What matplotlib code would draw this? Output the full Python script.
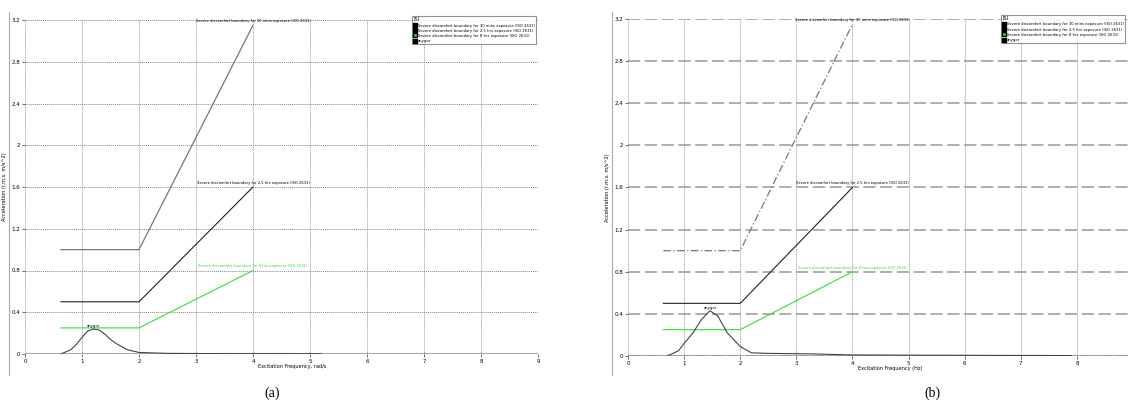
import numpy as np
import matplotlib
matplotlib.use("Agg")
import matplotlib.pyplot as plt
from matplotlib.lines import Line2D

# Boundary curves (ISO 2631), frequency points and acceleration values
bound_freq = [0.63, 2.0, 4.0]
bound_30min = [1.0, 1.0, 3.15]
bound_2h5 = [0.5, 0.5, 1.6]
bound_8h = [0.25, 0.25, 0.8]

# Input spectra
in_a_freq = [0.63, 0.8, 0.9, 1.0, 1.1, 1.2, 1.3, 1.4, 1.5, 1.6, 1.8, 2.0, 2.25, 2.5, 3.15, 4.0, 5.2]
in_a_val = [0.0, 0.04, 0.09, 0.16, 0.22, 0.24, 0.23, 0.19, 0.14, 0.10, 0.04, 0.015, 0.01, 0.006, 0.004, 0.003, 0.002]
in_b_freq = [0.7, 0.9, 1.0, 1.16, 1.3, 1.46, 1.6, 1.77, 2.0, 2.2, 2.5, 3.3, 4.0, 5.0, 6.3, 7.9]
in_b_val = [0.0, 0.05, 0.12, 0.22, 0.34, 0.43, 0.38, 0.22, 0.09, 0.03, 0.025, 0.02, 0.01, 0.008, 0.006, 0.004]

labels = ["Severe discomfort boundary for 30 mins exposure (ISO 2631)",
          "Severe discomfort boundary for 2.5 hrs exposure (ISO 2631)",
          "Severe discomfort boundary for 8 hrs exposure (ISO 2631)",
          "anygor"]
xticks_a = list(range(10))
xticks_b = list(range(9))
yticks = [0, 0.4, 0.8, 1.2, 1.6, 2.0, 2.4, 2.8, 3.2]
ytick_labels = ["0", "0.4", "0.8", "1.2", "1.6", "2", "2.4", "2.8", "3.2"]

font = "DejaVu Sans"
green = "#33dd33"

fig = plt.figure(figsize=(11.28, 4.05), dpi=100)
ax_a = fig.add_axes([25 / 1128, 1 - 354 / 405, 513 / 1128, 334 / 405])
ax_b = fig.add_axes([628 / 1128, 1 - 356 / 405, 505 / 1128, 337 / 405])


def draw_panel(ax, in_freq, in_val, xticks, xlabel, dashed_h, leg_anchor):
    ax.set_xlim(0, 9)
    ax.set_ylim(0, 3.2)
    ax.plot(bound_freq, bound_30min, color="#777777", lw=0.9,
            ls="-" if not dashed_h else (0, (6, 2, 1, 2)))
    ax.plot(bound_freq, bound_2h5, color="#222222", lw=0.8)
    ax.plot(bound_freq, bound_8h, color=green, lw=0.8)
    ax.plot(in_freq, in_val, color="#444444", lw=0.8)
    ax.plot([0, 9], [0, 0], color="#aaaaaa", lw=1.5, zorder=1)

    # labels at the end of each boundary
    kw = dict(fontsize=3.0, ha="center", va="bottom", family=font, fontstretch="condensed")
    ax.text(4, bound_30min[-1] + 0.02, labels[0], **kw)
    ax.text(4, bound_2h5[-1] + 0.02, labels[1], **kw)
    ax.text(4, bound_8h[-1] + 0.02, labels[2], color=green, **kw)
    i = int(np.argmax(in_val))
    ax.text(in_freq[i], in_val[i] + 0.01, labels[3], **kw)

    ax.set_xticks(xticks)
    ax.set_yticks(yticks)
    ax.set_yticklabels(ytick_labels)
    ax.tick_params(labelsize=4, length=2, width=0.4, pad=1.5)
    ax.grid(axis="x", color="#888888", ls=(0, (1, 1)), lw=0.6)
    if dashed_h:
        ax.grid(axis="y", color="#999999", ls=(0, (8, 3)), lw=1.1)
    else:
        ax.grid(axis="y", color="#888888", ls=(0, (1, 1)), lw=0.7)
    for s in ax.spines.values():
        s.set_visible(False)
    ax.set_xlabel(xlabel, fontsize=3.6, labelpad=2, family=font)
    ax.xaxis.set_label_coords(0.52, -0.03)
    ax.set_ylabel("Acceleration (r.m.s. m/s^2)", fontsize=3.6, labelpad=3, family=font)

    handles = [Line2D([], [], marker="s", ls="", color=c, markeredgecolor="black", markersize=3.2)
               for c in ["black", "black", green, "black"]]
    leg = ax.legend(handles, labels, title="ISI", loc="upper right", fontsize=2.7,
                    title_fontsize=3.6, frameon=True, fancybox=False, borderpad=0.4,
                    handletextpad=0.2, labelspacing=0.3, handlelength=0.8,
                    bbox_to_anchor=leg_anchor, bbox_transform=fig.transFigure)
    leg.get_frame().set_edgecolor("#777777")
    leg.get_frame().set_linewidth(0.8)
    leg._legend_box.align = "left"


draw_panel(ax_a, in_a_freq, in_a_val, xticks_a, "Excitation Frequency, rad/s", False,
           (538 / 1128, 1 - 14 / 405))
draw_panel(ax_b, in_b_freq, in_b_val, xticks_b, "Excitation Frequency (Hz)", True,
           (1127 / 1128, 1 - 13 / 405))

# screenshot frame edges
fig.add_artist(Line2D([9 / 1128, 9 / 1128], [1 - 375 / 405, 1 - 12 / 405], color="#aaaaaa", lw=0.8))
fig.add_artist(Line2D([612 / 1128, 612 / 1128], [1 - 375 / 405, 1 - 12 / 405], color="#aaaaaa", lw=0.8))

fig.text(272 / 1128, 1 - 393 / 405, "(a)", fontsize=10, family="Liberation Serif", ha="center", va="center")
fig.text(932 / 1128, 1 - 393 / 405, "(b)", fontsize=10, family="Liberation Serif", ha="center", va="center")

fig.savefig("out.png", dpi=100)
